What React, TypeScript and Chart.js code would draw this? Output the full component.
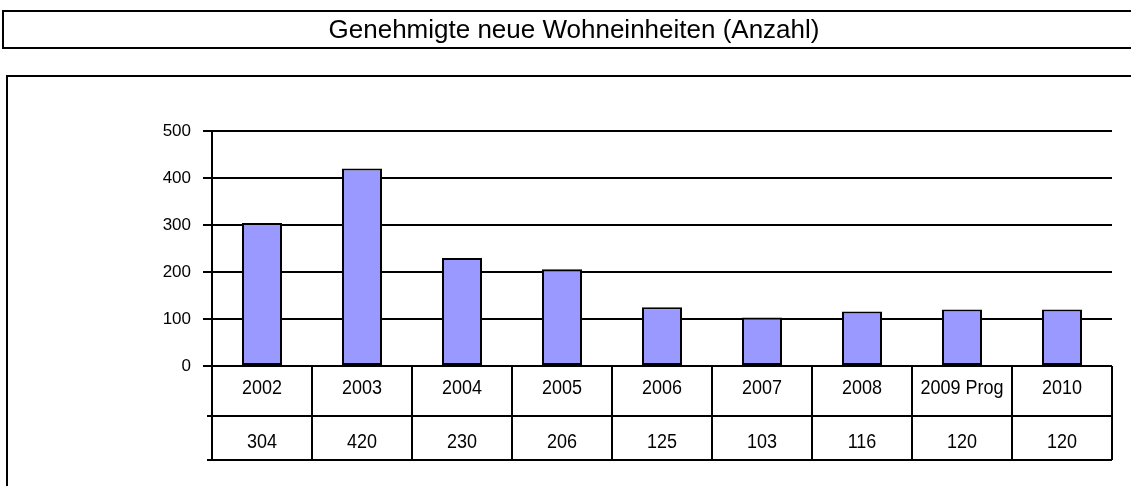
import React, { useEffect, useRef } from "react";
import { Chart, registerables } from "chart.js";

Chart.register(...registerables);

const TITLE = "Genehmigte neue Wohneinheiten (Anzahl)";
const categories = ["2002", "2003", "2004", "2005", "2006", "2007", "2008", "2009 Prog", "2010"];
const values = [304, 420, 230, 206, 125, 103, 116, 120, 120];
const valueLabels = ["304", "420", "230", "206", "125", "103", "116", "120", "120"];
const yMin = 0;
const yMax = 500;
const yStep = 100;

const FONT = "'Liberation Sans', Arial, Helvetica, sans-serif";

function stretchedText(ctx: CanvasRenderingContext2D, text: string, x: number, y: number, sy: number) {
  ctx.save();
  ctx.translate(x, y);
  ctx.scale(1, sy);
  ctx.fillText(text, 0, 0);
  ctx.restore();
}

const framePlugin = {
  id: "framesAndTable",
  afterDraw(chart: any) {
    const ctx = chart.ctx as CanvasRenderingContext2D;
    const W = chart.width;
    const H = chart.height;
    const area = chart.chartArea;
    const xs = chart.scales.x;
    ctx.save();
    ctx.strokeStyle = "#000";
    ctx.fillStyle = "#000";
    ctx.lineWidth = 2;

    // title box
    ctx.beginPath();
    ctx.moveTo(W + 2, 11);
    ctx.lineTo(3, 11);
    ctx.lineTo(3, 48);
    ctx.lineTo(W + 2, 48);
    ctx.stroke();
    ctx.font = `26px ${FONT}`;
    ctx.textAlign = "center";
    ctx.textBaseline = "middle";
    stretchedText(ctx, TITLE, 574, 31, 1.0);

    // outer frame
    ctx.beginPath();
    ctx.moveTo(W + 2, 76);
    ctx.lineTo(7, 76);
    ctx.lineTo(7, H + 2);
    ctx.stroke();

    // data table below the axis
    const n = categories.length;
    const step = (area.right - area.left) / n;
    const row1Bottom = area.bottom + 50;
    const row2Bottom = area.bottom + 94;
    ctx.beginPath();
    ctx.moveTo(area.left, area.top);
    ctx.lineTo(area.left, row2Bottom);
    for (let i = 0; i < n; i++) {
      const c = xs.getPixelForValue(i);
      const bx = c + step / 2;
      ctx.moveTo(bx, area.bottom);
      ctx.lineTo(bx, row2Bottom);
    }
    ctx.moveTo(area.left - 5, row1Bottom);
    ctx.lineTo(area.right, row1Bottom);
    ctx.moveTo(area.left - 5, row2Bottom);
    ctx.lineTo(area.right, row2Bottom);
    ctx.stroke();

    ctx.font = `18px ${FONT}`;
    ctx.textAlign = "center";
    ctx.textBaseline = "middle";
    for (let i = 0; i < n; i++) {
      const c = xs.getPixelForValue(i);
      stretchedText(ctx, categories[i], c, area.bottom + 22, 1.12);
      stretchedText(ctx, valueLabels[i], c, area.bottom + 76, 1.12);
    }
    ctx.restore();
  },
};

export default function App() {
  const ref = useRef<HTMLCanvasElement | null>(null);
  useEffect(() => {
    if (!ref.current) return;
    const chart = new Chart(ref.current, {
      type: "bar",
      data: {
        labels: categories,
        datasets: [
          {
            data: values,
            backgroundColor: "#9999FF",
            borderColor: "#000",
            borderWidth: 2,
            borderSkipped: false,
            barPercentage: 0.4,
            categoryPercentage: 1,
          },
        ],
      },
      options: {
        responsive: false,
        animation: false,
        devicePixelRatio: 1,
        layout: { padding: { left: 0, top: 131, right: 19, bottom: 120 } },
        plugins: {
          legend: { display: false },
          title: { display: false },
          tooltip: { enabled: false },
        },
        scales: {
          x: {
            display: false,
          },
          y: {
            min: yMin,
            max: yMax,
            ticks: {
              stepSize: yStep,
              color: "#000",
              padding: 12,
              font: { family: FONT, size: 17 },
            },
            grid: {
              color: "#000",
              lineWidth: 2,
              tickLength: 9,
              drawTicks: true,
            },
            border: { display: true, color: "#000", width: 2 },
            afterFit(scale: any) {
              scale.width = 212;
            },
          },
        },
      },
      plugins: [framePlugin],
    });
    return () => chart.destroy();
  }, []);
  return (
    <div style={{ position: "fixed", left: 0, top: 0, width: 1131, height: 486, background: "#fff" }}>
      <canvas ref={ref} width={1131} height={486} style={{ width: 1131, height: 486, display: "block" }} />
    </div>
  );
}
